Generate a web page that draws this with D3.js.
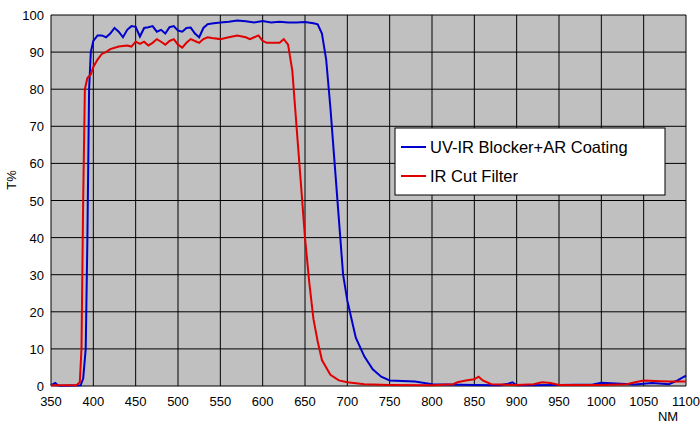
<!DOCTYPE html><html><head><meta charset="utf-8"><script src="https://cdn.jsdelivr.net/npm/d3@7"></script>
<style>body{margin:0;background:#fff}text{font-family:"Liberation Sans",Arial,sans-serif}</style></head><body>
<svg id="c" width="700" height="430"></svg>
<script>
const xTicks=[350,400,450,500,550,600,650,700,750,800,850,900,950,1000,1050,1100];
const yTicks=[0,10,20,30,40,50,60,70,80,90,100];
const blueX=[350,355,358,362,385,388,391,393,395,397,400,405,410,415,420,425,430,435,440,445,450,455,460,465,470,475,480,485,490,495,500,505,510,515,520,525,530,535,540,550,560,570,580,590,600,610,620,630,640,650,660,665,670,675,680,685,690,695,700,705,710,720,730,740,750,780,800,850,880,890,895,900,950,990,1000,1040,1060,1080,1090,1100];
const blueY=[0.2,0.8,0.2,0.1,0.2,2,10,40,80,90,93,94.5,94.5,94,95,96.5,95.5,94,96,97,96.8,94.2,96.5,96.7,97,95.5,96,95,96.7,97,95.8,95.5,96.5,96.6,95,94,96.5,97.5,97.7,98,98.2,98.5,98.3,98,98.4,98,98.2,98,98,98.1,97.8,97.5,95,88,75,60,45,30,23,18,13,8,4.5,2.5,1.5,1.2,0.5,0.3,0.2,0.6,1,0.2,0.3,0.4,0.9,0.4,0.8,0.5,1.5,2.8];
const redX=[350,380,384,386,388,390,393,397,400,405,410,415,420,430,440,445,450,455,460,465,470,475,480,485,490,495,500,505,510,515,520,525,530,535,540,550,560,570,580,585,590,595,600,605,610,620,625,630,635,640,645,650,655,660,665,670,680,690,700,720,750,800,825,830,840,850,855,860,870,900,920,930,940,950,1000,1030,1040,1050,1070,1080,1100];
const redY=[0.2,0.2,1,10,50,80,83,84,86,88,89.5,90,90.8,91.5,91.8,91.5,92.8,92.2,92.8,91.8,92.5,93.5,92.8,92,93,93.5,92,91.2,92.5,93.5,93,92.5,93.5,94,93.8,93.5,94,94.5,94,93.5,94,94.5,93,92.5,92.5,92.5,93.5,92,85,70,55,40,28,18,12,7,3,1.5,1,0.5,0.3,0.2,0.5,1,1.5,1.8,2.5,1.5,0.5,0.3,0.5,1,0.8,0.3,0.3,0.5,1,1.5,1.3,1.2,1.2];
const seriesNames=["UV-IR Blocker+AR Coating","IR Cut Filter"];
const colors=["#0000cc","#e00000"];

const svg=d3.select("#c");
const L=51,R=686,T=15,B=386;
const x=d3.scaleLinear().domain([350,1100]).range([L,R]);
const y=d3.scaleLinear().domain([0,100]).range([B,T]);
svg.append("rect").attr("x",L).attr("y",T).attr("width",R-L).attr("height",B-T).attr("fill","#c0c0c0");
const g=svg.append("g");
g.selectAll(".vx").data(xTicks).join("line").attr("x1",d=>x(d)).attr("x2",d=>x(d)).attr("y1",T).attr("y2",B).attr("stroke","#000").attr("stroke-width",1);
g.selectAll(".hy").data(yTicks).join("line").attr("x1",L).attr("x2",R).attr("y1",d=>y(d)).attr("y2",d=>y(d)).attr("stroke","#000").attr("stroke-width",1);
svg.selectAll(".xl").data(xTicks).join("text").attr("x",d=>x(d)).attr("y",406).attr("text-anchor","middle").attr("font-size",13).text(d=>d);
svg.selectAll(".yl").data(yTicks).join("text").attr("x",44).attr("y",d=>y(d)+5).attr("text-anchor","end").attr("font-size",13).text(d=>d);
svg.append("text").attr("transform","translate(16,180) rotate(-90)").attr("text-anchor","middle").attr("font-size",13).text("T%");
svg.append("text").attr("x",668).attr("y",421).attr("text-anchor","middle").attr("font-size",13).text("NM");
const line=d3.line().x(d=>x(d[0])).y(d=>y(d[1]));
[[blueX,blueY],[redX,redY]].forEach((s,i)=>{
  svg.append("path").attr("d",line(d3.zip(s[0],s[1]))).attr("fill","none").attr("stroke",colors[i]).attr("stroke-width",2);
});
const lg=svg.append("g");
lg.append("rect").attr("x",395).attr("y",128).attr("width",270).attr("height",67).attr("fill","#fff").attr("stroke","#000");
seriesNames.forEach((n,i)=>{
  const yy=147+i*29;
  lg.append("line").attr("x1",401).attr("x2",426).attr("y1",yy).attr("y2",yy).attr("stroke",colors[i]).attr("stroke-width",2);
  lg.append("text").attr("x",430).attr("y",yy+6).attr("font-size",16.5).text(n);
});
</script></body></html>
